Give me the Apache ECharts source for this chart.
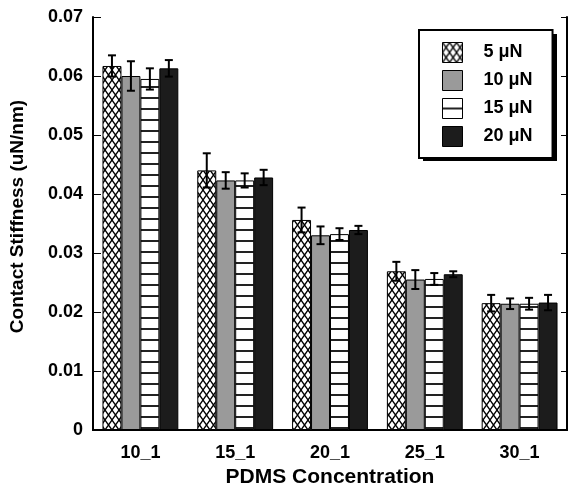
<!DOCTYPE html>
<html>
<head>
<meta charset="utf-8">
<script src="https://cdn.jsdelivr.net/npm/echarts@6/dist/echarts.min.js"></script>
<style>
  html, body { margin: 0; padding: 0; background: #fff; }
  #main { width: 568px; height: 494px; }
</style>
</head>
<body>
<div id="main"></div>
<script>
// data
const categories = ['10_1', '15_1', '20_1', '25_1', '30_1']
const seriesNames = ['5 μN', '10 μN', '15 μN', '20 μN']
const load5 = [0.0617, 0.0440, 0.0356, 0.0269, 0.0215]
const load10 = [0.0600, 0.0423, 0.0330, 0.0255, 0.0214]
const load15 = [0.0595, 0.0423, 0.0332, 0.0256, 0.0214]
const load20 = [0.0613, 0.0428, 0.0339, 0.0264, 0.0216]
const err5 = [0.0018, 0.0029, 0.0021, 0.0016, 0.0014]
const err10 = [0.0025, 0.0014, 0.0015, 0.0016, 0.0009]
const err15 = [0.0018, 0.0012, 0.0010, 0.0010, 0.0010]
const err20 = [0.0014, 0.0013, 0.0007, 0.0005, 0.0013]
const yTicks = [0, 0.01, 0.02, 0.03, 0.04, 0.05, 0.06, 0.07]

const values = [load5, load10, load15, load20]
const errors = [err5, err10, err15, err20]

const FONT = 'Liberation Sans'
const GAP = 0.2

// fill patterns
function crossHatch() {
  const c = document.createElement('canvas')
  c.width = 7
  c.height = 10
  const ctx = c.getContext('2d')
  ctx.fillStyle = '#fff'
  ctx.fillRect(0, 0, 7, 10)
  ctx.strokeStyle = '#000'
  ctx.lineWidth = 1.3
  ctx.beginPath()
  ctx.moveTo(0, 0); ctx.lineTo(7, 10)
  ctx.moveTo(7, 0); ctx.lineTo(0, 10)
  ctx.stroke()
  return c
}

function hStripes() {
  const c = document.createElement('canvas')
  c.width = 4
  c.height = 11
  const ctx = c.getContext('2d')
  ctx.fillStyle = '#fff'
  ctx.fillRect(0, 0, 4, 11)
  ctx.fillStyle = '#222'
  ctx.fillRect(0, 9, 4, 2)
  return c
}

const fills = [
  { image: crossHatch(), repeat: 'repeat' },
  '#9a9a9a',
  { image: hStripes(), repeat: 'repeat' },
  '#1c1c1c'
]

const barSeries = seriesNames.map((name, i) => ({
  name: name,
  type: 'bar',
  data: values[i],
  barGap: '0%',
  barCategoryGap: (GAP * 100) + '%',
  itemStyle: { color: fills[i], borderColor: '#000', borderWidth: 1 },
  emphasis: { disabled: true }
}))

// error bars drawn on top of the grouped bars
const errorSeries = seriesNames.map((name, i) => ({
  type: 'custom',
  z: 10,
  data: categories.map((c, k) => [k, values[i][k], errors[i][k]]),
  encode: { x: 0, y: 1 },
  renderItem: function (params, api) {
    const k = api.value(0)
    const v = api.value(1)
    const e = api.value(2)
    const catW = api.size([1, 0])[0]
    const bw = catW * (1 - GAP) / 4
    const dx = (i - 1.5) * bw
    const hi = api.coord([k, v + e])
    const lo = api.coord([k, v - e])
    const x = hi[0] + dx
    const cap = 4
    const style = { stroke: '#000', lineWidth: 2 }
    return {
      type: 'group',
      children: [
        { type: 'line', shape: { x1: x, y1: hi[1], x2: x, y2: lo[1] }, style: style },
        { type: 'line', shape: { x1: x - cap, y1: hi[1], x2: x + cap, y2: hi[1] }, style: style },
        { type: 'line', shape: { x1: x - cap, y1: lo[1], x2: x + cap, y2: lo[1] }, style: style }
      ]
    }
  }
}))

const chart = echarts.init(document.getElementById('main'))
chart.setOption({
  animation: false,
  grid: { left: 92, right: 1, top: 17, bottom: 64 },
  // solid drop shadow behind the legend box
  graphic: {
    elements: [{
      type: 'rect',
      x: 423,
      y: 34,
      shape: { x: 0, y: 0, width: 134, height: 127 },
      style: { fill: '#000' },
      z: 1
    }]
  },
  legend: {
    data: seriesNames,
    orient: 'vertical',
    left: 419,
    top: 30,
    padding: [12, 20, 11, 23],
    itemGap: 7,
    itemWidth: 20,
    itemHeight: 20,
    icon: 'rect',
    backgroundColor: '#fff',
    borderColor: '#000',
    borderWidth: 2,
    z: 20,
    itemStyle: { borderColor: '#000', borderWidth: 1 },
    textStyle: { fontFamily: FONT, fontWeight: 'bold', fontSize: 18, color: '#000', padding: [0, 0, 0, 16] }
  },
  xAxis: [{
    type: 'category',
    data: categories,
    name: 'PDMS Concentration',
    nameLocation: 'middle',
    nameGap: 37,
    nameTextStyle: { fontFamily: FONT, fontWeight: 'bold', fontSize: 21, color: '#000' },
    axisLine: { lineStyle: { color: '#000', width: 2 } },
    axisTick: { inside: true, length: 6, lineStyle: { color: '#000', width: 2 } },
    axisLabel: { margin: 14, fontFamily: FONT, fontWeight: 'bold', fontSize: 18, color: '#000' }
  }, {
    type: 'category',
    data: categories,
    position: 'top',
    axisLine: { lineStyle: { color: '#000', width: 2 } },
    axisTick: { inside: true, length: 6, lineStyle: { color: '#000', width: 2 } },
    axisLabel: { show: false }
  }],
  yAxis: [{
    type: 'value',
    min: 0,
    max: 0.07,
    interval: 0.01,
    name: 'Contact Stiffness (uN/nm)',
    nameLocation: 'middle',
    nameGap: 66,
    nameTextStyle: { fontFamily: FONT, fontWeight: 'bold', fontSize: 19, color: '#000', padding: [0, 0, 0, 14] },
    axisLine: { show: true, lineStyle: { color: '#000', width: 2 } },
    axisTick: { show: true, inside: true, length: 8, lineStyle: { color: '#000', width: 1 } },
    splitLine: { show: false },
    axisLabel: {
      margin: 10,
      fontFamily: FONT, fontWeight: 'bold', fontSize: 18, color: '#000',
      formatter: v => {
        const t = yTicks.find(y => Math.abs(y - v) < 1e-9)
        return t === 0 ? '0' : (t !== undefined ? t.toFixed(2) : '')
      }
    }
  }, {
    type: 'value',
    min: 0,
    max: 0.07,
    interval: 0.01,
    position: 'right',
    axisLine: { show: true, lineStyle: { color: '#000', width: 2 } },
    axisTick: { show: true, inside: true, length: 6, lineStyle: { color: '#000', width: 1 } },
    splitLine: { show: false },
    axisLabel: { show: false }
  }],
  series: barSeries.concat(errorSeries)
})
</script>
</body>
</html>
